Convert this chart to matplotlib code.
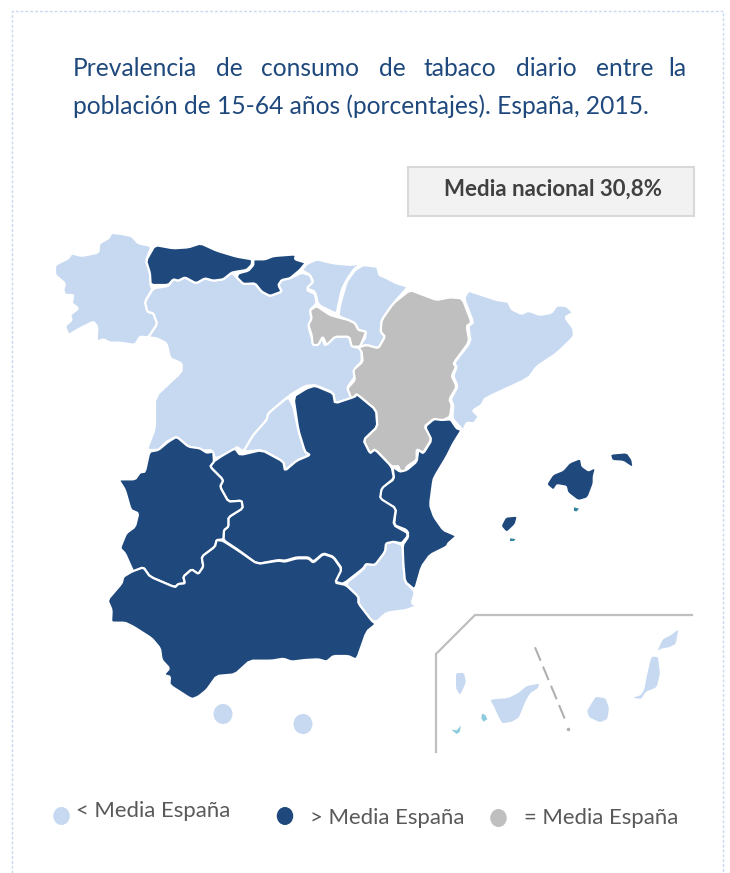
import matplotlib
matplotlib.use("Agg")
import matplotlib.pyplot as plt
from matplotlib.patches import Polygon, Ellipse, Rectangle

DARK = "#1F497D"
LIGHT = "#C6D9F1"
GREY = "#BFBFBF"
TEAL = "#31859C"
TEAL2 = "#8CCBDC"

plt.rcParams['font.family'] = ['Lato', 'DejaVu Sans']

def c1(p): return [(40 + x / 3, 220 + y / 3) for x, y in p]
def c2(p): return [(290 + x / 3, 240 + y / 3) for x, y in p]
def c3(p): return [(100 + x / 3, 430 + y / 3) for x, y in p]
def c4(p): return [(430 + x / 3, 605 + y / 3) for x, y in p]

galicia = c1([(215,38),(245,42),(275,48),(295,70),(335,78),(318,122),(332,160),(332,198),(338,205),(315,245),(322,275),(340,280),(352,312),(325,352),(300,350),(285,375),(240,368),(210,368),(190,358),(170,365),(172,320),(160,305),(120,325),(85,345),(75,318),(95,300),(90,285),(115,265),(95,250),(100,225),(75,225),(70,210),(75,190),(45,165),(45,135),(85,115),(95,100),(125,108),(175,98),(178,70),(205,55)])
asturias = c1([(345,75),(400,85),(445,82),(482,70),(530,92),(590,110),(637,118),(635,135),(620,150),(590,155),(575,158),(550,178),(520,182),(495,175),(468,190),(435,172),(415,182),(400,178),(385,195),(332,195),(330,160),(318,122)])
cantabria = c1([(640,118),(675,118),(700,108),(768,103),(765,118),(798,128),(780,150),(750,175),(725,180),(715,195),(725,215),(690,228),(665,215),(645,190),(610,192),(590,172),(595,160),(625,152),(640,135)])
castilla_leon = c1([(340,205),(385,198),(400,178),(415,182),(435,172),(468,190),(495,175),(520,182),(550,178),(575,158),(588,170),(610,192),(645,190),(665,215),(690,228),(725,215),(715,195),(725,180),(750,175),(785,158),(810,165),(820,190),(800,210),(825,222),(830,250),(810,270),(815,300),(805,320),(822,375),(845,350),(855,378),(880,350),(925,348),(938,380),(965,385),(965,425),(945,445),(945,470),(920,505),(945,530),(885,550),(880,518),(825,495),(795,498),(750,525),(685,580),(680,600),(640,645),(610,695),(590,680),(575,700),(525,715),(515,690),(480,692),(445,680),(410,650),(380,665),(355,690),(320,690),(345,625),(345,530),(425,455),(425,430),(390,415),(380,370),(350,355),(325,352),(352,312),(340,280),(322,275),(315,245)])
madrid = c1([(745,530),(685,580),(680,600),(640,645),(610,695)]) + c3([(488,60),(550,95),(555,122),(590,92),(630,75)]) + c1([(795,695),(775,630),(760,560)])
pais_vasco = c2([(35,90),(50,72),(80,58),(130,70),(185,75),(215,68),(190,90),(170,120),(155,150),(145,195),(140,222),(85,195),(75,155),(50,145),(70,125),(60,105)])
navarra = c2([(220,75),(262,80),(268,105),(285,112),(320,130),(355,140),(310,190),(275,240),(272,275),(285,290),(265,325),(230,315),(205,320),(225,295),(228,275),(205,270),(195,250),(175,240),(145,228),(150,195),(170,125),(195,90)])
rioja = c2([(80,198),(120,225),(145,232),(175,240),(195,250),(205,270),(228,275),(222,292),(210,320),(185,320),(178,290),(135,290),(110,315),(98,290),(85,315),(68,315),(65,285),(55,255),(65,235),(60,210)])
aragon = c2([(360,150),(400,165),(440,180),(480,172),(517,175),(545,248),(530,258),(538,305),(490,370),(498,380),(485,408),(500,440),(478,478),(485,495),(480,530),(455,543),(430,537),(403,560),(425,590),(420,605),(400,638),(380,628),(380,660),(350,680),(345,695),(330,692),(325,678),(305,680),(255,628),(240,640),(220,600),(262,560),(258,510),(200,462),(185,478),(172,445),(195,420),(190,390),(218,365),(215,335),(205,322),(230,315),(265,325),(285,290),(272,275),(275,240),(310,190)])
cataluna = c2([(535,152),(575,165),(620,180),(655,185),(665,208),(695,222),(715,212),(750,225),(785,218),(800,196),(830,198),(850,218),(825,232),(850,265),(852,290),(800,340),(740,380),(715,415),(585,475),(575,495),(548,512),(567,530),(552,550),(530,548),(520,572),(500,550),(487,535),(490,495),(482,478),(503,440),(490,408),(500,380),(492,370),(542,305),(535,258),(550,248),(522,175)])
valencia = c2([(432,537),(455,540),(482,538),(500,565),(515,570),(490,610),(470,650),(437,705),(430,720),(420,795),(432,830),(460,870),(495,885)]) + c3([(1068,320),(1045,340),(1040,350),(990,375),(965,410),(945,480),(915,455),(910,400),(908,345),(925,320),(920,300),(882,285),(888,235),(838,208),(845,172),(882,148),(878,110)]) + c2([(330,695),(350,690),(380,665),(385,630),(400,640),(425,600),(405,560)])
mancha = c1([(760,530),(800,505),(825,497),(880,520),(885,550),(945,530)]) + c2([(200,462),(258,510),(262,560),(220,600),(240,640),(255,628),(305,680),(312,715),(275,745),(270,775),(318,805),(310,855),(355,880)]) + c3([(922,305),(922,320),(905,340),(880,335),(858,340),(855,365),(825,405),(798,402),(790,415),(730,462),(705,455),(725,415),(700,380),(670,370),(640,395),(625,382),(590,382),(555,392),(535,390),(472,402),(415,360),(370,330),(372,300),(385,290),(385,262),(428,235),(425,212),(385,215),(360,170),(370,150),(330,110),(340,95),(365,78),(405,55),(420,75),(485,60),(550,95),(555,122),(590,92),(630,75)]) + c1([(795,695),(775,630)])
extremadura = c3([(230,20),(265,50),(300,55),(320,68),(340,65),(342,95),(330,110),(370,150),(360,170),(385,215),(425,212),(428,235),(385,262),(385,290),(372,300),(370,328),(350,330),(345,350),(305,380),(310,410),(295,432),(275,418),(250,440),(255,460),(235,462),(225,472),(150,440),(130,412),(100,425),(95,415),(75,370),(60,355),(78,310),(105,290),(115,250),(92,240),(75,180),(55,148),(105,148),(120,127),(135,125),(148,65),(175,60),(205,35)])
andalucia = c3([(368,332),(415,362),(472,402),(535,392),(555,395),(590,385),(625,385),(640,398),(670,372),(700,382),(725,418),(705,458),(738,465),(775,500),(775,520),(815,572),(828,582),(800,605),(770,690),(745,678),(700,678),(680,695),(655,688),(615,690),(575,695),(550,686),(515,692),(450,692),(405,733),(350,738),(320,780),(295,800),(275,808),(208,765),(210,740),(190,735),(208,715),(185,690),(180,655),(155,625),(100,590),(75,578),(33,578),(35,540),(22,510),(65,460),(70,440),(95,425),(130,412),(150,440),(225,472),(235,462),(255,460),(250,440),(275,418),(295,432),(310,410),(305,380),(345,350),(350,330)])
murcia = c3([(735,462),(790,418),(798,402),(825,405),(855,365),(858,340),(880,335),(908,345),(910,400),(915,455),(945,485),(935,520),(953,527),(920,540),(860,548),(830,575),(815,572),(775,520),(775,500)])
mallorca = c2([(772,733),(790,705),(820,693),(840,670),(870,658),(874,680),(895,695),(914,686),(908,710),(908,730),(892,772),(865,780),(835,757),(830,737),(800,732),(790,748)])
menorca = c2([(963,644),(1010,640),(1024,660),(1027,680),(1000,662),(968,660)])
ibiza = c2([(648,833),(680,830),(674,852),(650,875),(635,858)])
cabrera = c2([(852,802),(867,806),(860,814),(852,813)])
formentera = c2([(660,895),(676,897),(672,903),(660,903)])
la_palma = c4([(78,204),(102,204),(108,232),(90,270),(78,250)])
gomera = c4([(156,326),(166,330),(172,343),(160,350),(154,340)])
hierro = c4([(64,374),(80,376),(93,362),(89,381),(80,387)])
tenerife = c4([(180,284),(235,279),(265,264),(290,243),(328,236),(323,250),(301,264),(287,287),(267,337),(246,350),(217,355),(204,332),(193,306)])
gran_canaria = c4([(497,275),(527,280),(537,310),(532,342),(510,352),(478,337),(471,318),(483,298)])
fuerteventura = c4([(664,155),(684,156),(690,205),(680,247),(647,260),(634,282),(608,278),(632,271),(643,253),(650,215)])
lanzarote = c4([(745,73),(737,117),(716,127),(696,130),(683,137),(698,103),(724,90)])
inset_frame = [(436, 752), (436, 654), (475, 615), (692, 615)]
inset_dashes = c4([(315,127),(410,355)])
inset_dot = c4([(415,373)])
ceuta = (223, 714)
melilla = (303, 724)

below = [galicia, castilla_leon, madrid, pais_vasco, navarra, cataluna, murcia]
above = [asturias, cantabria, valencia, mancha, extremadura, andalucia]
equal = [rioja, aragon]
islands_dark = [mallorca, menorca, ibiza]
islands_light = [la_palma, tenerife, gran_canaria, fuerteventura, lanzarote]

title_line1 = ["Prevalencia", "de", "consumo", "de", "tabaco", "diario", "entre", "la"]
title_line1_x = [73, 216, 261, 379, 424, 516, 596, 668]
title_line2 = "población de 15-64 años (porcentajes). España, 2015."
box_text = "Media nacional 30,8%"
legend_labels = ["< Media España", "> Media España", "= Media España"]


def smooth(poly, cut=0.13, rounds=1):
    for _ in range(rounds):
        out = []
        n = len(poly)
        for i in range(n):
            (x0, y0), (x1, y1) = poly[i], poly[(i + 1) % n]
            out.append((x0 + cut * (x1 - x0), y0 + cut * (y1 - y0)))
            out.append((x1 - cut * (x1 - x0), y1 - cut * (y1 - y0)))
        poly = out
    return poly


fig = plt.figure(figsize=(7.30, 8.73), dpi=100)
ax = fig.add_axes([0, 0, 1, 1])
ax.set_xlim(0, 730)
ax.set_ylim(873, 0)
ax.axis("off")

# Outer dashed frame
ax.plot([12, 12, 723, 723], [873, 11, 11, 873], color="#C6D9F1", lw=1, ls=(0, (2, 1.5)))

# Title
for w, x in zip(title_line1, title_line1_x):
    ax.text(x, 68, w, color=DARK, fontsize=17.7, va="center", ha="left")
ax.text(73, 106, title_line2, color=DARK, fontsize=17.7, va="center", ha="left")

# Box
ax.add_patch(Rectangle((407.5, 166.5), 286, 49, fc="#F2F2F2", ec="#D9D9D9", lw=1.5))
ax.text(553, 189, box_text, color="#404040", fontsize=16, fontweight="bold", ha="center", va="center")

# Regions
for group, col in ((below, LIGHT), (equal, GREY), (above, DARK)):
    for poly in group:
        ax.add_patch(Polygon(smooth(poly), closed=True, fc=col, ec="white", lw=1.6, joinstyle="round"))
for poly in islands_dark:
    ax.add_patch(Polygon(smooth(poly), closed=True, fc=DARK, ec="none"))
for poly in islands_light:
    ax.add_patch(Polygon(smooth(poly), closed=True, fc=LIGHT, ec="none"))
for poly in (cabrera, formentera):
    ax.add_patch(Polygon(poly, closed=True, fc=TEAL, ec="none"))
for poly in (gomera, hierro):
    ax.add_patch(Polygon(poly, closed=True, fc=TEAL2, ec="none"))
for xy in (ceuta, melilla):
    ax.add_patch(Ellipse(xy, 19, 20, fc=LIGHT, ec="none"))

# Inset
ax.plot(*zip(*inset_frame), color=GREY, lw=1.6, solid_joinstyle="miter")
ax.plot(*zip(*inset_dashes), color="#B0B0B0", lw=1.5, ls=(0, (7, 3)))
ax.plot(*zip(*inset_dot), ls="none", marker="o", ms=1.5, color="#B0B0B0")

# Legend
for (x, y), col in zip([(61.5, 816), (285, 816), (498.5, 818)], [LIGHT, DARK, GREY]):
    ax.add_patch(Ellipse((x, y), 16.5, 18, fc=col, ec="none"))
for (x, y), t in zip([(76, 811), (310, 818), (524, 818)], legend_labels):
    ax.text(x, y, t, color="#595959", fontsize=15.9, ha="left", va="center")

fig.savefig("out.png", dpi=100)
